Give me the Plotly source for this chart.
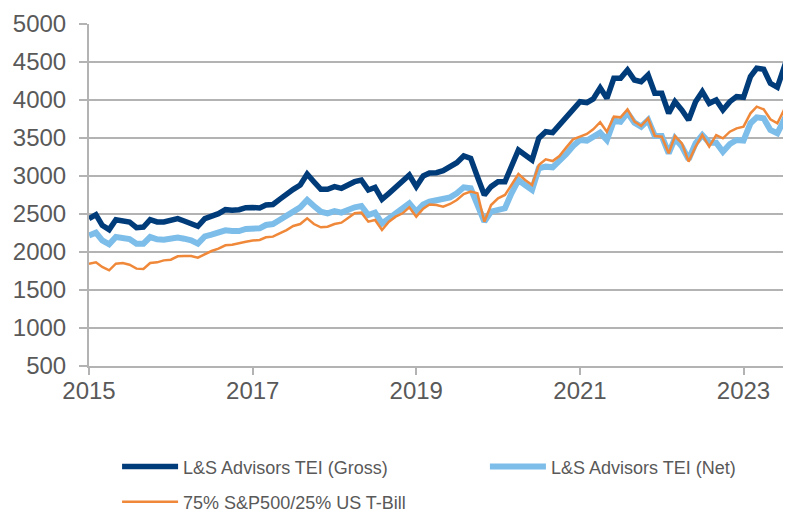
import plotly.graph_objects as go
import pandas as pd

dates = pd.date_range("2015-01-01", periods=104, freq="MS")

gross = [2439, 2491, 2351, 2294, 2425, 2417, 2395, 2320, 2329, 2425, 2395, 2395,
         2425, 2439, 2408, 2382, 2338, 2439, 2469, 2504, 2557, 2548, 2557, 2583,
         2585, 2580, 2618, 2625, 2693, 2772, 2825, 2882, 3026, 2925, 2825, 2825,
         2860, 2838, 2882, 2925, 2947, 2816, 2851, 2693, 2772, 2851, 2912, 3013,
         2860, 3000, 3040, 3044, 3070, 3114, 3175, 3263, 3232, 2991, 2750, 2860,
         2925, 2925, 3145, 3342, 3276, 3211, 3496, 3583, 3570, 3671, 3781, 3890,
         3978, 3965, 4015, 4160, 4022, 4285, 4285, 4395, 4263, 4241, 4329, 4088,
         4088, 3825, 3978, 3868, 3737, 3978, 4110, 3956, 4000, 3868, 3978, 4044,
         4035, 4307, 4417, 4404, 4219, 4167, 4450, 4700]

net = [2219, 2254, 2153, 2101, 2197, 2189, 2171, 2110, 2110, 2197, 2167, 2162,
       2175, 2189, 2175, 2153, 2110, 2206, 2228, 2250, 2285, 2276, 2276, 2303,
       2305, 2311, 2355, 2368, 2421, 2487, 2531, 2588, 2684, 2605, 2531, 2509,
       2539, 2518, 2553, 2588, 2605, 2487, 2518, 2377, 2443, 2509, 2553, 2640,
       2531, 2625, 2662, 2684, 2693, 2719, 2772, 2851, 2838, 2640, 2399, 2531,
       2561, 2575, 2772, 2947, 2882, 2816, 3101, 3123, 3114, 3189, 3289, 3395,
       3474, 3465, 3509, 3570, 3474, 3728, 3715, 3833, 3702, 3649, 3737, 3526,
       3526, 3298, 3496, 3386, 3219, 3430, 3539, 3439, 3439, 3320, 3421, 3474,
       3465, 3693, 3772, 3759, 3605, 3561, 3740, 3912]

bench = [1846, 1864, 1803, 1759, 1846, 1855, 1833, 1781, 1776, 1855, 1864, 1890,
         1899, 1943, 1947, 1947, 1925, 1969, 2013, 2044, 2088, 2096, 2118, 2136,
         2150, 2158, 2193, 2202, 2246, 2289, 2342, 2368, 2443, 2368, 2325, 2333,
         2368, 2386, 2443, 2509, 2518, 2399, 2421, 2289, 2399, 2465, 2509, 2588,
         2465, 2570, 2625, 2618, 2596, 2632, 2684, 2763, 2794, 2772, 2399, 2618,
         2706, 2750, 2882, 3026, 2947, 2882, 3145, 3219, 3197, 3263, 3377, 3482,
         3518, 3553, 3614, 3708, 3583, 3781, 3772, 3877, 3715, 3658, 3759, 3526,
         3518, 3298, 3526, 3430, 3189, 3386, 3539, 3386, 3539, 3496, 3583, 3627,
         3649, 3825, 3912, 3877, 3746, 3693, 3870, 4022]

names = ["L&S Advisors TEI (Gross)", "L&S Advisors TEI (Net)", "75% S&P500/25% US T-Bill"]

FONT = "Liberation Sans"
TXT = "#595959"
GRID = "#B3B3B3"

fig = go.Figure()
fig.add_trace(go.Scatter(x=dates, y=net, mode="lines", name=names[1],
                         line=dict(color="#7DBDE9", width=6), legend="legend3"))
fig.add_trace(go.Scatter(x=dates, y=bench, mode="lines", name=names[2],
                         line=dict(color="#F0883A", width=2.5), legend="legend2"))
fig.add_trace(go.Scatter(x=dates, y=gross, mode="lines", name=names[0],
                         line=dict(color="#003B7A", width=5.5), legend="legend"))

leg_common = dict(orientation="h", xanchor="left", yanchor="middle", visible=True,
                  itemwidth=56, font=dict(size=18, color=TXT, family=FONT),
                  bgcolor="rgba(0,0,0,0)")

# the page body has an 8px margin, so the figure is sized 8px smaller
fig.update_layout(
    width=783, height=504, showlegend=True,
    margin=dict(l=81, r=0, t=16, b=146, autoexpand=False),
    paper_bgcolor="white", plot_bgcolor="white",
    font=dict(family=FONT, color=TXT, size=18),
    legend=dict(x=0.04, y=-0.295, **leg_common),
    legend3=dict(x=0.564, y=-0.295, **leg_common),
    legend2=dict(x=0.04, y=-0.398, **leg_common),
    xaxis=dict(type="date", range=["2015-01-01", "2023-08-01"],
               tick0="2015-01-01", dtick="M24", tickformat="%Y",
               showgrid=False, showline=True, linecolor=GRID, linewidth=2,
               ticks="outside", ticklen=7, tickcolor=GRID, tickwidth=2,
               automargin=False, ticklabelstandoff=-5,
               tickfont=dict(size=24, color=TXT, family=FONT)),
    yaxis=dict(range=[500, 5000], dtick=500, tick0=500,
               showgrid=True, gridcolor=GRID, gridwidth=2,
               showline=True, linecolor=GRID, linewidth=2,
               ticks="outside", ticklen=8, tickcolor=GRID, tickwidth=2,
               zeroline=False, automargin=False, ticklabelstandoff=8,
               tickfont=dict(size=24, color=TXT, family=FONT)),
)

fig.write_html("out.html")
